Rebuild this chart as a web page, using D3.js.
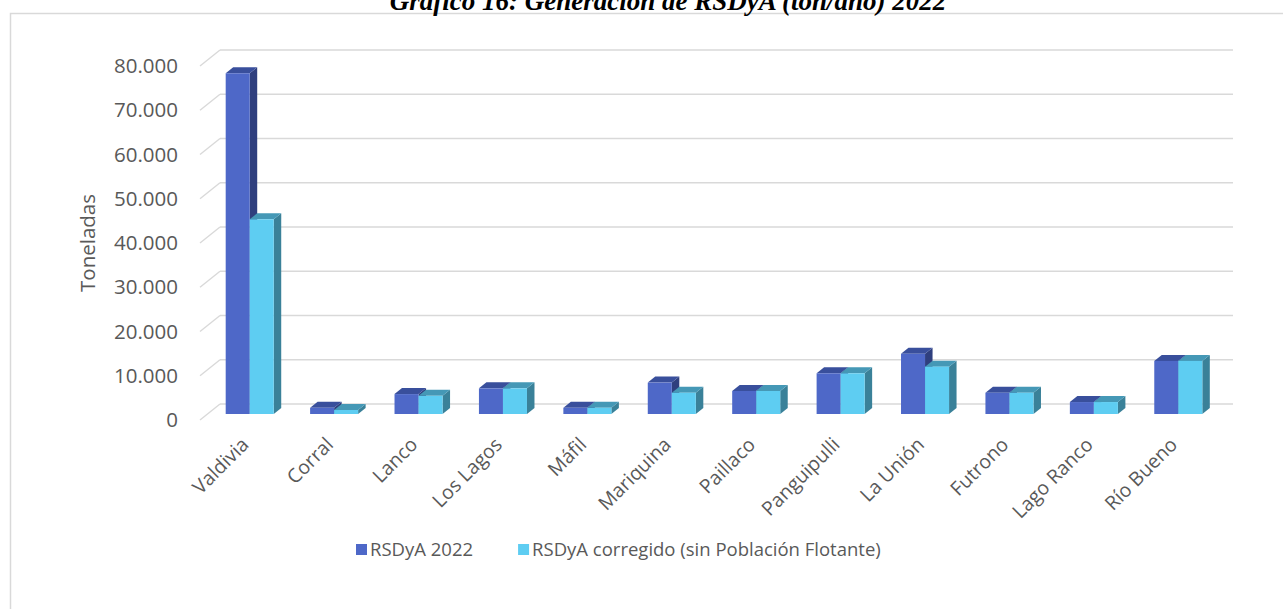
<!DOCTYPE html>
<html>
<head>
<meta charset="utf-8">
<script src="https://cdn.jsdelivr.net/npm/d3@7"></script>
<style>
  body { margin: 0; background: #fff; }
  svg { display: block; }
</style>
</head>
<body>
<script>
// datos
var comunas = ["Valdivia", "Corral", "Lanco", "Los Lagos", "Máfil", "Mariquina", "Paillaco",
  "Panguipulli", "La Unión", "Futrono", "Lago Ranco", "Río Bueno"];
var rsdya2022 = [77000, 1400, 4500, 5800, 1400, 7100, 5200, 9200, 13600, 4800, 2700, 12000];
var rsdyaCorregido = [44000, 900, 4100, 5800, 1400, 4800, 5200, 9200, 10700, 4800, 2700, 12000];
var series = ["RSDyA 2022", "RSDyA corregido (sin Población Flotante)"];
var yTicks = [0, 10000, 20000, 30000, 40000, 50000, 60000, 70000, 80000];

var W = 1283, H = 609;
var textColor = "#595959";
var gridColor = "#d9d9d9";

// colores: frente, arriba, lado
var colors = [
  {front: "#4e68c8", top: "#394f9c", side: "#2f3f7e"},
  {front: "#5ecdf2", top: "#4598b6", side: "#3a8199"}
];

// geometria 3D (pared del fondo y profundidad)
var back = {left: 220, right: 1233, bottom: 404, top: 50};
var depth = {dx: 20, dy: 16};
var barOff = {dx: 7.5, dy: 6};     // cara frontal de la barra dentro del piso
var barDepth = {dx: 7.5, dy: 6};

var es = d3.formatLocale({decimal: ",", thousands: ".", grouping: [3], currency: ["$", ""]});
var fmt = es.format(",.0f");

var svg = d3.select("body").append("svg")
  .attr("width", W)
  .attr("height", H);

// marco del grafico
svg.append("rect")
  .attr("x", 10.5).attr("y", 13.5)
  .attr("width", W + 20).attr("height", H + 20)
  .attr("fill", "none")
  .attr("stroke", gridColor)
  .attr("stroke-width", 1.5);

// titulo (cortado arriba en el original)
svg.append("text")
  .attr("x", 668).attr("y", 10)
  .attr("text-anchor", "middle")
  .attr("font-family", "'Liberation Serif', serif")
  .attr("font-weight", "bold")
  .attr("font-style", "italic")
  .attr("font-size", 27)
  .attr("fill", "#000")
  .text("Gráfico 16: Generación de RSDyA (ton/año) 2022");

var yBack = d3.scaleLinear().domain([0, 80000]).range([back.bottom, back.top]);
var yBar = d3.scaleLinear().domain([0, 80000])
  .range([back.bottom + depth.dy - barOff.dy, back.top + depth.dy - barOff.dy]);

var x = d3.scaleBand()
  .domain(comunas)
  .range([back.left - depth.dx, back.right - depth.dx])
  .paddingInner(0.431)
  .paddingOuter(0.2155);

var xSub = d3.scaleBand()
  .domain(series)
  .range([0, x.bandwidth()]);

// lineas de grilla: pared del fondo + pared lateral
var grid = svg.append("g");
yTicks.forEach(function (t) {
  var y = yBack(t);
  grid.append("line")
    .attr("x1", back.left).attr("x2", back.right)
    .attr("y1", y).attr("y2", y)
    .attr("stroke", gridColor).attr("stroke-width", 1.5);
  grid.append("line")
    .attr("x1", back.left - depth.dx).attr("y1", y + depth.dy)
    .attr("x2", back.left).attr("y2", y)
    .attr("stroke", gridColor).attr("stroke-width", 1.5);
});

// etiquetas eje Y
svg.append("g").selectAll("text")
  .data(yTicks)
  .join("text")
  .attr("x", 178)
  .attr("y", function (d) { return yBack(d) + depth.dy; })
  .attr("dy", "0.35em")
  .attr("text-anchor", "end")
  .attr("font-family", "'Open Sans', sans-serif")
  .attr("font-size", 20.5)
  .attr("fill", textColor)
  .text(function (d) { return fmt(d); });

svg.append("text")
  .attr("transform", "translate(95," + 243 + ") rotate(-90)")
  .attr("text-anchor", "middle")
  .attr("font-family", "'Open Sans', sans-serif")
  .attr("font-size", 20.5)
  .attr("fill", textColor)
  .text("Toneladas");

// barras 3D
function bar3d(g, x0, w, v, c) {
  var yb = yBar(0), yt = yBar(v);
  var dx = barDepth.dx, dy = barDepth.dy;
  g.append("path")
    .attr("d", "M" + (x0 + w) + "," + yb + "L" + (x0 + w + dx) + "," + (yb - dy) +
      "L" + (x0 + w + dx) + "," + (yt - dy) + "L" + (x0 + w) + "," + yt + "Z")
    .attr("fill", c.side);
  g.append("path")
    .attr("d", "M" + x0 + "," + yt + "L" + (x0 + dx) + "," + (yt - dy) +
      "L" + (x0 + w + dx) + "," + (yt - dy) + "L" + (x0 + w) + "," + yt + "Z")
    .attr("fill", c.top);
  g.append("rect")
    .attr("x", x0).attr("y", yt)
    .attr("width", w).attr("height", yb - yt)
    .attr("fill", c.front);
}

var values = [rsdya2022, rsdyaCorregido];
var bars = svg.append("g");
comunas.forEach(function (name, i) {
  var g = bars.append("g");
  series.forEach(function (s, j) {
    var x0 = x(name) + xSub(s) + barOff.dx;
    bar3d(g, x0, xSub.bandwidth(), values[j][i], colors[j]);
  });
});

// etiquetas eje X
svg.append("g").selectAll("text")
  .data(comunas)
  .join("text")
  .attr("transform", function (d) {
    var cx = x(d) + x.bandwidth() / 2 + 3;
    return "translate(" + cx + ",441) rotate(-45)";
  })
  .attr("text-anchor", "end")
  .attr("dy", "0.35em")
  .attr("font-family", "'Open Sans', sans-serif")
  .attr("font-size", 19.5)
  .attr("fill", textColor)
  .text(function (d) { return d; });

// leyenda
var legend = svg.append("g").attr("transform", "translate(356,550)");
var lx = 0;
series.forEach(function (s, j) {
  legend.append("rect")
    .attr("x", lx).attr("y", -6)
    .attr("width", 11).attr("height", 11)
    .attr("fill", colors[j].front);
  var t = legend.append("text")
    .attr("x", lx + 14).attr("y", 0)
    .attr("dy", "0.35em")
    .attr("font-family", "'Open Sans', sans-serif")
    .attr("font-size", 18.5)
    .attr("fill", textColor)
    .text(s);
  lx += 14 + t.node().getComputedTextLength() + 45;
});
</script>
</body>
</html>
